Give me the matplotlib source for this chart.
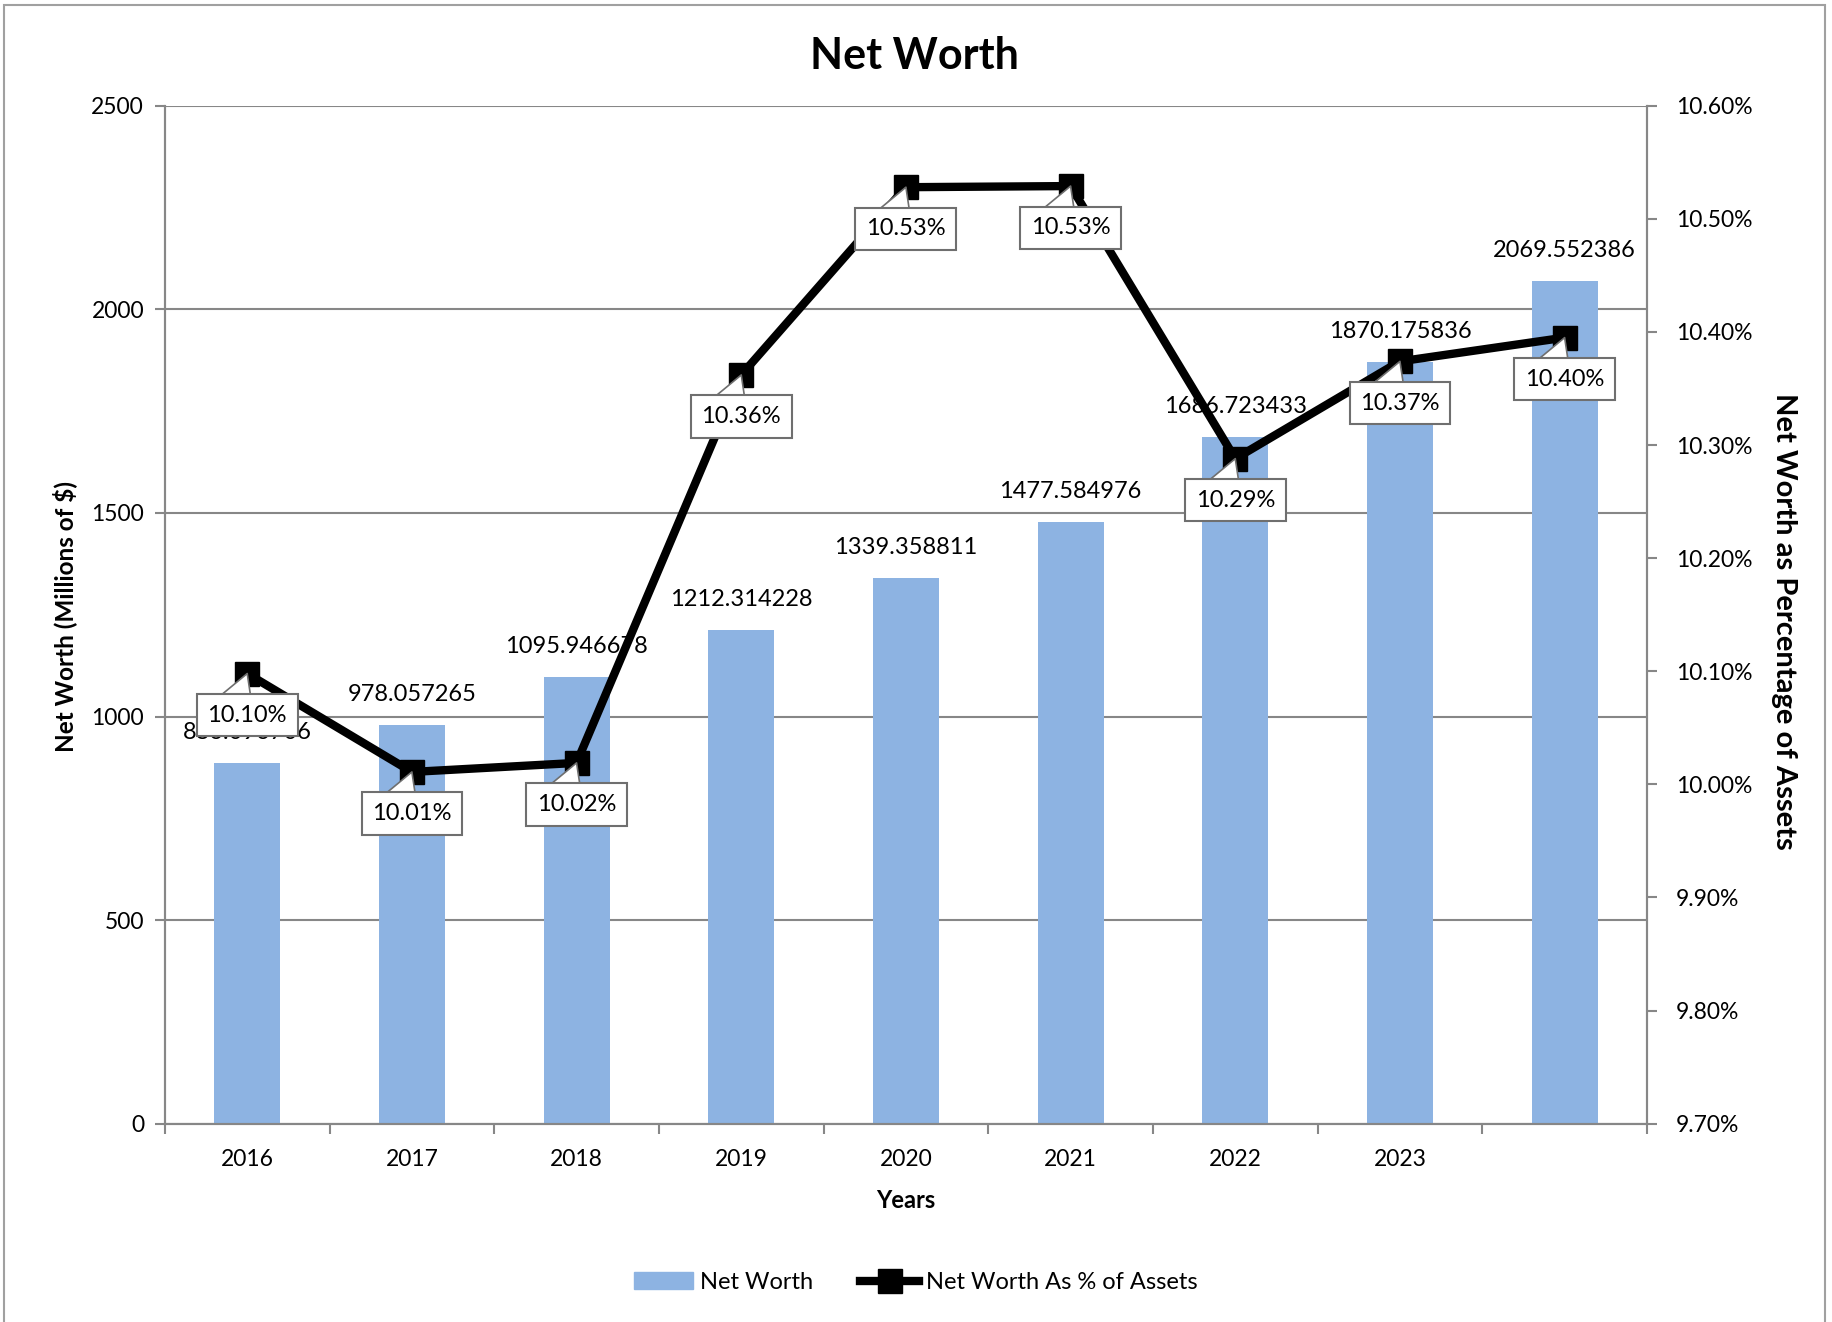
import matplotlib
matplotlib.use("Agg")
from matplotlib import pyplot
from matplotlib.patches import Rectangle, Patch
from matplotlib.lines import Line2D
from matplotlib.ticker import FuncFormatter

pyplot.rcParams["font.family"] = ["Lato", "DejaVu Sans"]

years = ["2016", "2017", "2018", "2019", "2020", "2021", "2022", "2023", ""]
net_worth = [886.096706, 978.057265, 1095.946678, 1212.314228, 1339.358811,
             1477.584976, 1686.723433, 1870.175836, 2069.552386]
pct_assets = [10.098, 10.011, 10.019, 10.362, 10.528, 10.529, 10.288, 10.374, 10.395]
pct_labels = ["10.10%", "10.01%", "10.02%", "10.36%", "10.53%", "10.53%",
              "10.29%", "10.37%", "10.40%"]

bar_color = "#8DB3E2"
grey = "#878787"

fig = pyplot.figure(figsize=(18.32, 13.22), dpi=100)
ax = fig.add_axes([0.090, 0.150, 0.809, 0.770])
ax2 = ax.twinx()

x = list(range(len(years)))
ax.bar(x, net_worth, width=0.4, color=bar_color, zorder=2)
for xi, v in zip(x, net_worth):
    ax.annotate(f"{v:.6f}", (xi, v), xytext=(0, 22), textcoords="offset points",
                ha="center", va="center", fontsize=17, zorder=3)

ax.set_xlim(-0.5, len(years) - 0.5)
ax.set_ylim(0, 2500)
ax.set_yticks(range(0, 2501, 500))
ax.set_xticks([i - 0.5 for i in range(len(years) + 1)])
ax.set_xticklabels([])
ax.set_xticks(x, minor=True)
ax.set_xticklabels(years, minor=True)
ax.tick_params(axis="x", which="major", length=7, color=grey, width=1.5)
ax.tick_params(axis="x", which="minor", length=0, pad=18, labelsize=16.5)
ax.tick_params(axis="y", length=7, color=grey, width=1.5, labelsize=16.5, pad=8)
ax.yaxis.grid(True, color=grey, lw=1.5)
ax.set_axisbelow(True)

ax2.plot(x, pct_assets, color="black", lw=6, marker="s", ms=17, zorder=3)
ax2.set_ylim(9.7, 10.6)
ax2.set_yticks([9.7 + 0.1 * i for i in range(10)])
ax2.yaxis.set_major_formatter(FuncFormatter(lambda v, p: f"{v:.2f}%"))
ax2.tick_params(axis="y", length=7, color=grey, width=1.5, labelsize=16.5, pad=14)
for xi, v, lbl in zip(x, pct_assets, pct_labels):
    ax2.annotate(lbl, (xi, v), xytext=(0, -30), textcoords="offset points",
                 ha="center", va="center", fontsize=17, zorder=5,
                 bbox=dict(boxstyle="square,pad=0.45", fc="white", ec="#6f6f6f", lw=1.5),
                 arrowprops=dict(arrowstyle="wedge,tail_width=1.6", fc="white",
                                 ec="#6f6f6f", lw=1.2, shrinkA=0, shrinkB=0,
                                 patchA=None, relpos=(0.35, 1.0)))

for a in (ax, ax2):
    a.spines["top"].set_visible(False)
    for s in ("left", "right", "bottom"):
        a.spines[s].set_color(grey)
        a.spines[s].set_linewidth(1.5)

fig.text(0.499, 0.958, "Net Worth", ha="center", va="center", fontsize=31, fontweight="bold")
fig.text(0.4945, 0.092, "Years", ha="center", va="center", fontsize=17, fontweight="bold")
fig.text(0.035, 0.534, "Net Worth (Millions of $)", ha="center", va="center",
         rotation=90, fontsize=17.5, fontweight="bold")
fig.text(0.974, 0.530, "Net Worth as Percentage of Assets", ha="center", va="center",
         rotation=270, fontsize=21, fontweight="bold")

handles = [Patch(color=bar_color, label="Net Worth"),
           Line2D([], [], color="black", lw=6, marker="s", ms=17,
                  label="Net Worth As % of Assets")]
fig.legend(handles=handles, loc="center", bbox_to_anchor=(0.5, 0.030), ncol=2,
           frameon=False, fontsize=17, handlelength=2.5, columnspacing=2.0,
           handletextpad=0.3)

fig.patches.append(Rectangle((0.002, -0.01), 0.994, 1.006, transform=fig.transFigure,
                             fill=False, ec="#a0a0a0", lw=1.5))

fig.savefig("out.png", dpi=100)
